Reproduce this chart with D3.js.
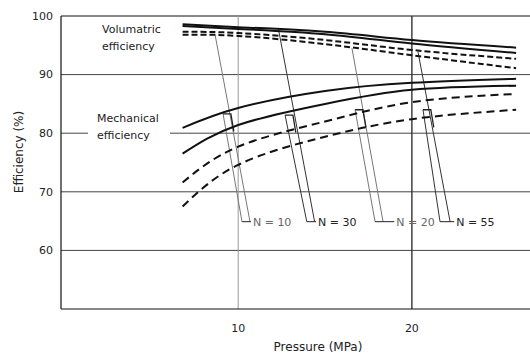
<!DOCTYPE html>
<html>
<head>
<meta charset="utf-8">
<script src="https://cdn.jsdelivr.net/npm/d3@7"></script>
<style>
  body { margin: 0; background: #fff; }
  svg { display: block; font-family: "DejaVu Sans", sans-serif; }
</style>
</head>
<body>
<div id="chart"></div>
<script>
// Data
const pressure = [6.8, 10, 15, 20, 26];
const volSolidA = [98.6, 98.1, 97.3, 95.9, 94.6];
const volSolidB = [98.3, 97.8, 96.9, 95.3, 93.7];
const volDashA = [97.3, 97.1, 95.9, 94.2, 92.7];
const volDashB = [96.8, 96.6, 95.2, 93.3, 91.1];
const mechSolidA = [80.9, 84.3, 87.2, 88.6, 89.3];
const mechSolidB = [76.5, 81.4, 85.0, 87.4, 88.1];
const mechDashA = [71.6, 77.7, 82.0, 85.3, 86.7];
const mechDashB = [67.5, 74.6, 79.4, 82.4, 84.0];

const yTicks = [100, 90, 80, 70, 60];
const xTicks = [10, 20];

// N connector lines (pressure, efficiency)
const nLabels = ["N = 10", "N = 30", "N = 20", "N = 55"];
const volTopP = [8.67, 12.31, 16.55, 20.35];
const volTopEff = [96.8, 97.9, 94.5, 93.9];
const mechTopP = [9.13, 12.7, 16.73, 20.64];
const mechTopEff = [83.3, 83.1, 84.0, 84.0];
const bottomLeftP = [10.22, 13.95, 17.88, 21.62];
const bottomRightP = [10.68, 14.4, 18.34, 22.2];
const labelP = [10.85, 14.6, 19.1, 22.55];
const bracketEff = 64.9;

const width = 530, height = 355;
const svg = d3.select("#chart").append("svg")
  .attr("width", width)
  .attr("height", height);

const x = d3.scaleLinear().domain([-0.2, 26.8]).range([61, 530]);
const y = d3.scaleLinear().domain([50, 100]).range([309, 16]);

// grid
const grid = svg.append("g");
grid.selectAll("line.h")
  .data(yTicks)
  .enter().append("line")
  .attr("class", "h")
  .attr("x1", x(-0.2)).attr("x2", x(26.8))
  .attr("y1", d => y(d)).attr("y2", d => y(d))
  .style("stroke", d => d === 100 ? "#111" : "#444")
  .style("stroke-width", 1);

grid.selectAll("line.v")
  .data(xTicks)
  .enter().append("line")
  .attr("class", "v")
  .attr("x1", d => x(d)).attr("x2", d => x(d))
  .attr("y1", y(100)).attr("y2", y(50))
  .style("stroke", d => d === 10 ? "#999" : "#333")
  .style("stroke-width", d => d === 10 ? 1 : 1.4);

// frame: left and bottom
svg.append("line")
  .attr("x1", x(-0.2)).attr("x2", x(-0.2))
  .attr("y1", y(100)).attr("y2", y(50))
  .style("stroke", "#111").style("stroke-width", 1.2);
svg.append("line")
  .attr("x1", x(-0.2)).attr("x2", x(26.8))
  .attr("y1", y(50)).attr("y2", y(50))
  .style("stroke", "#111").style("stroke-width", 1.2);

// tick labels
svg.append("g").selectAll("text")
  .data(yTicks)
  .enter().append("text")
  .attr("x", 53)
  .attr("y", d => y(d))
  .attr("dy", "0.35em")
  .attr("text-anchor", "end")
  .style("font-size", "11px")
  .style("fill", "#222")
  .text(d => d);

svg.append("g").selectAll("text")
  .data(xTicks)
  .enter().append("text")
  .attr("x", d => x(d))
  .attr("y", 328)
  .attr("dy", "0.35em")
  .attr("text-anchor", "middle")
  .style("font-size", "11px")
  .style("fill", "#222")
  .text(d => d);

// axis titles
svg.append("text")
  .attr("x", 318).attr("y", 351)
  .attr("text-anchor", "middle")
  .style("font-size", "12px")
  .style("fill", "#222")
  .text("Pressure (MPa)");

svg.append("text")
  .attr("transform", "translate(23,152) rotate(-90)")
  .attr("text-anchor", "middle")
  .style("font-size", "12px")
  .style("fill", "#222")
  .text("Efficiency (%)");

// connectors
const conn = svg.append("g")
  .style("stroke", "#555")
  .style("stroke-width", 1)
  .style("fill", "none");

nLabels.forEach((lab, i) => {
  const dark = (i % 2 === 1);
  const col = dark ? "#333" : "#777";
  // volumetric line
  conn.append("line")
    .attr("x1", x(volTopP[i])).attr("y1", y(volTopEff[i]))
    .attr("x2", x(bottomRightP[i])).attr("y2", y(bracketEff))
    .style("stroke", col);
  // mechanical line
  conn.append("line")
    .attr("x1", x(mechTopP[i])).attr("y1", y(mechTopEff[i]))
    .attr("x2", x(bottomLeftP[i])).attr("y2", y(bracketEff))
    .style("stroke", col);
  // small cap at mechanical curve
  conn.append("polyline")
    .attr("points", [
      [x(mechTopP[i]), y(mechTopEff[i])],
      [x(mechTopP[i] + 0.45), y(mechTopEff[i])],
      [x(mechTopP[i] + 0.45 + 0.17), y(mechTopEff[i] - 3)]
    ].join(" "))
    .style("stroke", "#222")
    .style("stroke-width", 1.3);
  // bracket + leader
  conn.append("line")
    .attr("x1", x(bottomLeftP[i])).attr("y1", y(bracketEff))
    .attr("x2", x(labelP[i]) - 2).attr("y2", y(bracketEff))
    .style("stroke", "#222");
  svg.append("text")
    .attr("x", x(labelP[i]))
    .attr("y", y(bracketEff))
    .attr("dy", "0.35em")
    .style("font-size", "11px")
    .style("fill", dark ? "#222" : "#666")
    .text(lab);
});

// curves
const line = d3.line()
  .x((d, i) => x(pressure[i]))
  .y(d => y(d))
  .curve(d3.curveNatural);

const series = [
  { vals: volSolidA, dash: null },
  { vals: volSolidB, dash: null },
  { vals: volDashA, dash: "6,3" },
  { vals: volDashB, dash: "6,3" },
  { vals: mechSolidA, dash: null },
  { vals: mechSolidB, dash: null },
  { vals: mechDashA, dash: "8,5" },
  { vals: mechDashB, dash: "8,5" }
];

svg.append("g").selectAll("path")
  .data(series)
  .enter().append("path")
  .attr("d", d => line(d.vals))
  .style("fill", "none")
  .style("stroke", "#111")
  .style("stroke-width", 2)
  .style("stroke-dasharray", d => d.dash);

// curve group labels
svg.append("rect")
  .attr("x", 88).attr("y", 111)
  .attr("width", 82).attr("height", 30)
  .style("fill", "#fff");

const labels = svg.append("g")
  .style("font-size", "11px")
  .style("fill", "#222");
labels.append("text").attr("x", 102).attr("y", 33).text("Volumatric");
labels.append("text").attr("x", 102).attr("y", 50).text("efficiency");
labels.append("text").attr("x", 97).attr("y", 122).text("Mechanical");
labels.append("text").attr("x", 97).attr("y", 139).text("efficiency");
</script>
</body>
</html>
